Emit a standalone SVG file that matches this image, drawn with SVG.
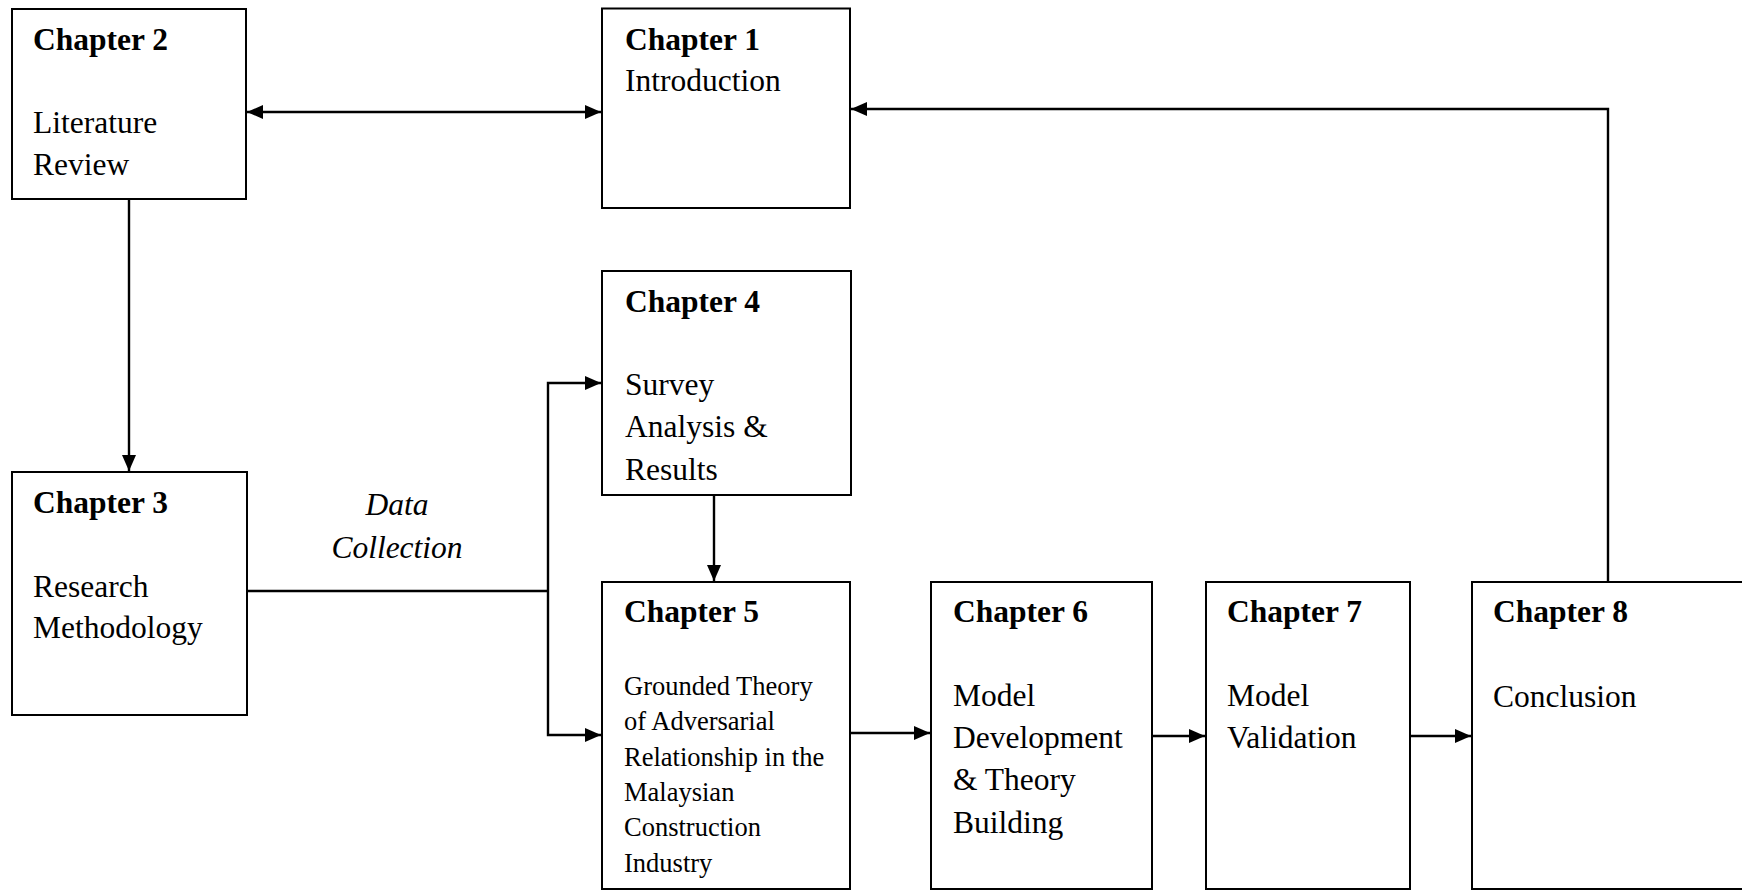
<svg xmlns="http://www.w3.org/2000/svg" width="1742" height="890" viewBox="0 0 1742 890">
<defs>
<marker id="ah" markerUnits="userSpaceOnUse" markerWidth="16" markerHeight="14" refX="16" refY="7" orient="auto-start-reverse">
<path d="M0,0 L16,7 L0,14 z" fill="#000"/>
</marker>
</defs>
<style>
.box{fill:#fff;stroke:#000;stroke-width:2}
.t{font-family:"Liberation Serif","Times New Roman",serif;font-size:31.5px;fill:#000}
.b{font-weight:bold}
.s{font-size:26.5px}
.i{font-style:italic}
.c{fill:none;stroke:#000;stroke-width:2.4}
</style>
<rect width="1742" height="890" fill="#fff"/>
<g id="ch2">
<rect class="box" x="12" y="9" width="234" height="190"/>
<text class="t b" x="33" y="50">Chapter 2</text>
<text class="t" x="33" y="133">Literature</text>
<text class="t" x="33" y="175">Review</text>
</g>
<g id="ch1">
<rect class="box" x="602" y="8.5" width="248" height="199.5"/>
<text class="t b" x="625" y="50">Chapter 1</text>
<text class="t" x="625" y="91">Introduction</text>
</g>
<g id="ch3">
<rect class="box" x="12" y="472" width="235" height="243"/>
<text class="t b" x="33" y="513">Chapter 3</text>
<text class="t" x="33" y="597">Research</text>
<text class="t" x="33" y="638">Methodology</text>
</g>
<g id="ch4">
<rect class="box" x="602" y="271" width="249" height="224"/>
<text class="t b" x="625" y="312">Chapter 4</text>
<text class="t" x="625" y="395">Survey</text>
<text class="t" x="625" y="437">Analysis &amp;</text>
<text class="t" x="625" y="480">Results</text>
</g>
<g id="ch5">
<rect class="box" x="602" y="582" width="248" height="307"/>
<text class="t b" x="624" y="622">Chapter 5</text>
<text class="t s" x="624" y="695">Grounded Theory</text>
<text class="t s" x="624" y="730">of Adversarial</text>
<text class="t s" x="624" y="766">Relationship in the</text>
<text class="t s" x="624" y="801">Malaysian</text>
<text class="t s" x="624" y="836">Construction</text>
<text class="t s" x="624" y="872">Industry</text>
</g>
<g id="ch6">
<rect class="box" x="931" y="582" width="221" height="307"/>
<text class="t b" x="953" y="622">Chapter 6</text>
<text class="t" x="953" y="706">Model</text>
<text class="t" x="953" y="748">Development</text>
<text class="t" x="953" y="790">&amp; Theory</text>
<text class="t" x="953" y="833">Building</text>
</g>
<g id="ch7">
<rect class="box" x="1206" y="582" width="204" height="307"/>
<text class="t b" x="1227" y="622">Chapter 7</text>
<text class="t" x="1227" y="706">Model</text>
<text class="t" x="1227" y="748">Validation</text>
</g>
<g id="ch8">
<rect class="box" x="1472" y="582" width="300" height="307"/>
<text class="t b" x="1493" y="622">Chapter 8</text>
<text class="t" x="1493" y="707">Conclusion</text>
</g>
<g id="label-data">
<text class="t i" x="397" y="515" text-anchor="middle">Data</text>
<text class="t i" x="397" y="558" text-anchor="middle">Collection</text>
</g>
<g id="connectors">
<line class="c" x1="247" y1="112" x2="601" y2="112" marker-start="url(#ah)" marker-end="url(#ah)"/>
<polyline class="c" points="1608,582 1608,109 851,109" marker-end="url(#ah)"/>
<line class="c" x1="129" y1="199" x2="129" y2="471" marker-end="url(#ah)"/>
<line class="c" x1="247" y1="591" x2="548" y2="591"/>
<polyline class="c" points="601,383 548,383 548,735 601,735" marker-start="url(#ah)" marker-end="url(#ah)"/>
<line class="c" x1="714" y1="495" x2="714" y2="581" marker-end="url(#ah)"/>
<line class="c" x1="850" y1="733" x2="930" y2="733" marker-end="url(#ah)"/>
<line class="c" x1="1152" y1="736" x2="1205" y2="736" marker-end="url(#ah)"/>
<line class="c" x1="1411" y1="736" x2="1471" y2="736" marker-end="url(#ah)"/>
</g>
</svg>
